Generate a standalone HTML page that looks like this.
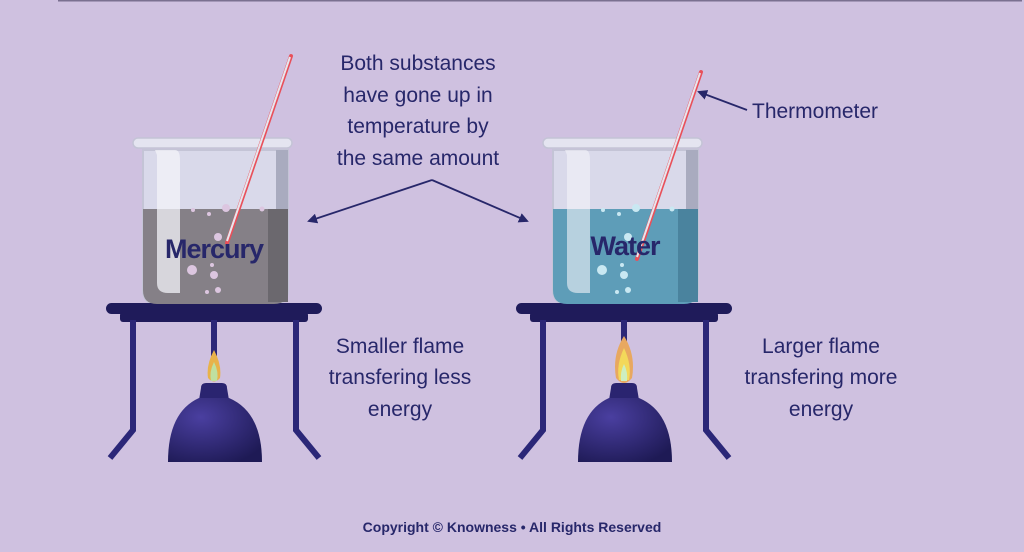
<!DOCTYPE html><html><head><meta charset="utf-8"><style>
html,body{margin:0;padding:0;background:#cfc1e0;}
svg{display:block}
text{font-family:"Liberation Sans",sans-serif;fill:#27276a}
</style></head><body>
<svg width="1024" height="552" viewBox="0 0 1024 552" xmlns="http://www.w3.org/2000/svg">
<defs>
<radialGradient id="dome" cx="0.35" cy="0.3" r="0.8"><stop offset="0" stop-color="#4a3fa0"/><stop offset="1" stop-color="#1e1a55"/></radialGradient>
<marker id="ah" markerWidth="10" markerHeight="10" refX="8" refY="5" orient="auto" markerUnits="userSpaceOnUse"><path d="M0,0 L10,5 L0,10 Z" fill="#27276a"/></marker>
</defs>
<rect x="0" y="0" width="1024" height="552" fill="#cfc1e0"/>
<rect x="58" y="0" width="964" height="1.5" fill="#7a7090"/>

<g id="setup">
<!-- beaker -->
<path d="M143,150 L143,290 Q143,304 157,304 L274,304 Q288,304 288,290 L288,150 Z" fill="#d9d9ea" stroke="#c4c4d6" stroke-width="2"/>
<rect x="133" y="138" width="159" height="10" rx="5" fill="#e4e4f0" stroke="#c4c4d6" stroke-width="1.5"/>
<rect x="276" y="150" width="12" height="150" fill="#a9abbf"/>
<!-- stand -->
<rect x="106" y="303" width="216" height="11" rx="5.5" fill="#1f1b5a"/>
<rect x="120" y="312" width="188" height="10" rx="3" fill="#1f1b5a"/>
<g stroke="#2b2778" stroke-width="6" fill="none">
<path d="M133,320 L133,430 L110,458"/><path d="M296,320 L296,430 L319,458"/>
<line x1="214" y1="320" x2="214" y2="356"/></g>
<!-- burner -->
<path d="M201,388 Q201,383 206,383 L222,383 Q227,383 227,388 L229,400 L199,400 Z" fill="#2a2470"/>
<path d="M199,398 L229,398 Q262,412 262,462 L168,462 Q168,412 199,398 Z" fill="url(#dome)"/>
</g>
<use href="#setup" transform="translate(410,0)"/>

<!-- mercury liquid -->
<path d="M143,209 L288,209 L288,290 Q288,304 274,304 L157,304 Q143,304 143,290 Z" fill="#858087"/>
<rect x="268" y="209" width="20" height="93" fill="#6b686e"/>
<path d="M155,150 L175,150 Q180,150 180,160 L180,293 L168,293 Q157,293 157,283 L157,155 Z" fill="#f3f3f8" opacity="0.75"/>
<g fill="#dcc6e0"><circle cx="226" cy="208" r="4"/><circle cx="193" cy="210" r="2"/><circle cx="209" cy="214" r="2"/><circle cx="262" cy="209" r="2.5"/><circle cx="218" cy="237" r="4"/><circle cx="192" cy="270" r="5"/><circle cx="214" cy="275" r="4"/><circle cx="212" cy="265" r="2"/><circle cx="218" cy="290" r="3"/><circle cx="207" cy="292" r="2"/></g>
<line x1="291" y1="56" x2="227" y2="243" stroke="#e8505a" stroke-width="4" stroke-linecap="round"/>
<line x1="290" y1="57" x2="227" y2="241" stroke="#e6e6ee" stroke-width="2"/>
<text x="214" y="258" font-size="27" font-weight="bold" text-anchor="middle" letter-spacing="-1">Mercury</text>
<path d="M214,350 Q222,365 220,378 Q214,385 208,378 Q206,365 214,350 Z" fill="#e8b24a"/>
<path d="M214,362 Q219,372 217,381 L211,381 Q209,372 214,362 Z" fill="#bfe0a0"/>

<!-- water -->
<path d="M553,209 L698,209 L698,290 Q698,304 684,304 L567,304 Q553,304 553,290 Z" fill="#5e9db8"/>
<rect x="678" y="209" width="20" height="93" fill="#4a839e"/>
<path d="M565,150 L585,150 Q590,150 590,160 L590,293 L578,293 Q567,293 567,283 L567,155 Z" fill="#f3f3f8" opacity="0.6"/>
<g fill="#c9e8f2"><circle cx="636" cy="208" r="4"/><circle cx="603" cy="210" r="2"/><circle cx="619" cy="214" r="2"/><circle cx="672" cy="209" r="2.5"/><circle cx="628" cy="237" r="4"/><circle cx="602" cy="270" r="5"/><circle cx="624" cy="275" r="4"/><circle cx="622" cy="265" r="2"/><circle cx="628" cy="290" r="3"/><circle cx="617" cy="292" r="2"/></g>
<line x1="701" y1="72" x2="637" y2="259" stroke="#e8505a" stroke-width="4" stroke-linecap="round"/>
<line x1="700" y1="73" x2="637" y2="257" stroke="#e6e6ee" stroke-width="2"/>
<text x="625" y="255" font-size="27" font-weight="bold" text-anchor="middle" letter-spacing="-1">Water</text>
<path d="M624,336 Q636,355 632,378 Q624,388 616,378 Q612,355 624,336 Z" fill="#e8a860"/>
<path d="M624,348 Q632,365 629,380 L619,380 Q616,365 624,348 Z" fill="#f3d85a"/>
<path d="M624,364 Q628,372 627,381 L621,381 Q620,372 624,364 Z" fill="#cdeec0"/>

<g font-size="21" text-anchor="middle">
<text x="418" y="70">Both substances</text>
<text x="418" y="102">have gone up in</text>
<text x="418" y="133">temperature by</text>
<text x="418" y="165">the same amount</text>
<text x="400" y="353">Smaller flame</text>
<text x="400" y="384">transfering less</text>
<text x="400" y="416">energy</text>
<text x="821" y="353">Larger flame</text>
<text x="821" y="384">transfering more</text>
<text x="821" y="416">energy</text>
</g>
<text x="752" y="118" font-size="21">Thermometer</text>
<g stroke="#27276a" stroke-width="1.8" fill="none">
<line x1="432" y1="180" x2="309" y2="221" marker-end="url(#ah)"/>
<line x1="432" y1="180" x2="527" y2="221" marker-end="url(#ah)"/>
<line x1="747" y1="110" x2="699" y2="92" marker-end="url(#ah)"/>
</g>
<text x="512" y="532" font-size="14" font-weight="bold" text-anchor="middle">Copyright © Knowness • All Rights Reserved</text>
</svg>
</body></html>
